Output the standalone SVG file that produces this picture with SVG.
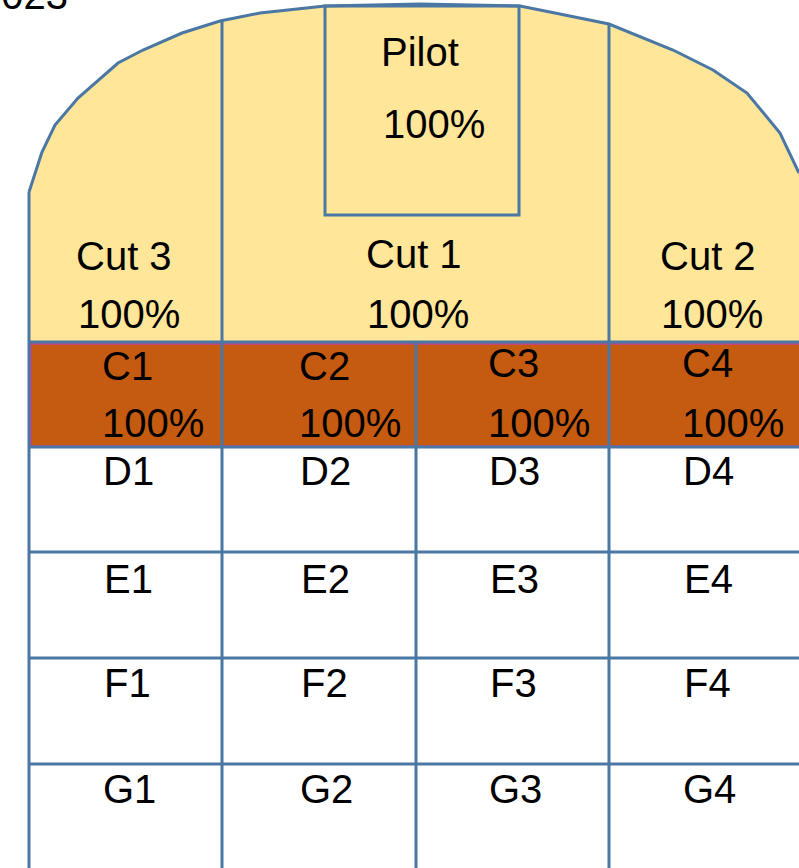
<svg xmlns="http://www.w3.org/2000/svg" width="799" height="868" viewBox="0 0 799 868">
<style>
.ln{stroke:#4A77A3;stroke-width:3;fill:none}
.t{font-family:"Liberation Sans",Arial,sans-serif;font-size:40px;fill:#000}
.cut{fill:#FFE699}
.c{fill:#C55A11;stroke:#C8457A;stroke-width:2}
</style>
<rect width="799" height="868" fill="#fff"/>
<text class="t" x="-21" y="9">2023</text>
<g id="arch">
<path class="cut" d="M29,192 L42,152 L55,125 L78,98 L118,63 L143,50 L182,33 L220,21 L260,13 L325,6 L420,4 L520,6 L550,12 L609,24 L673,50 L713,70 L747,93 L780,133 L799,173 L799,342 L29,342 Z"/>
<path class="ln" d="M29,192 L42,152 L55,125 L78,98 L118,63 L143,50 L182,33 L220,21 L260,13 L325,6 L420,4 L520,6 L550,12 L609,24 L673,50 L713,70 L747,93 L780,133 L799,173"/>
</g>
<g id="cut3"><text class="t" x="76" y="270">Cut 3</text><text class="t" x="78" y="328">100%</text></g>
<g id="cut1"><text class="t" x="366" y="268">Cut 1</text><text class="t" x="367" y="328">100%</text></g>
<g id="cut2"><text class="t" x="660" y="270">Cut 2</text><text class="t" x="661" y="328">100%</text></g>
<g id="pilot"><rect class="ln" x="325" y="6" width="194" height="209"/><text class="t" x="381" y="66">Pilot</text><text class="t" x="383" y="138">100%</text></g>
<g id="c-row">
<rect class="c" x="31" y="344" width="770" height="102"/>
</g>
<g id="C1"><text class="t" x="102" y="380">C1</text><text class="t" x="102" y="437">100%</text></g>
<g id="C2"><text class="t" x="299" y="380">C2</text><text class="t" x="299" y="437">100%</text></g>
<g id="C3"><text class="t" x="488" y="377">C3</text><text class="t" x="488" y="437">100%</text></g>
<g id="C4"><text class="t" x="682" y="377">C4</text><text class="t" x="682" y="437">100%</text></g>
<g id="grid" class="ln">
<line x1="29" y1="192" x2="29" y2="868"/>
<line x1="222" y1="21" x2="222" y2="868"/>
<line x1="416" y1="342" x2="416" y2="868"/>
<line x1="609" y1="24" x2="609" y2="868"/>
<line x1="29" y1="342" x2="799" y2="342"/>
<line x1="29" y1="447" x2="799" y2="447"/>
<line x1="29" y1="552" x2="799" y2="552"/>
<line x1="29" y1="658" x2="799" y2="658"/>
<line x1="29" y1="764" x2="799" y2="764"/>
</g>
<g id="D1"><text class="t" x="103" y="485">D1</text></g>
<g id="D2"><text class="t" x="300" y="485">D2</text></g>
<g id="D3"><text class="t" x="489" y="485">D3</text></g>
<g id="D4"><text class="t" x="683" y="485">D4</text></g>
<g id="E1"><text class="t" x="104" y="593">E1</text></g>
<g id="E2"><text class="t" x="301" y="593">E2</text></g>
<g id="E3"><text class="t" x="490" y="593">E3</text></g>
<g id="E4"><text class="t" x="684" y="593">E4</text></g>
<g id="F1"><text class="t" x="104" y="697">F1</text></g>
<g id="F2"><text class="t" x="301" y="697">F2</text></g>
<g id="F3"><text class="t" x="490" y="697">F3</text></g>
<g id="F4"><text class="t" x="684" y="697">F4</text></g>
<g id="G1"><text class="t" x="103" y="803">G1</text></g>
<g id="G2"><text class="t" x="300" y="803">G2</text></g>
<g id="G3"><text class="t" x="489" y="803">G3</text></g>
<g id="G4"><text class="t" x="683" y="803">G4</text></g>
</svg>
